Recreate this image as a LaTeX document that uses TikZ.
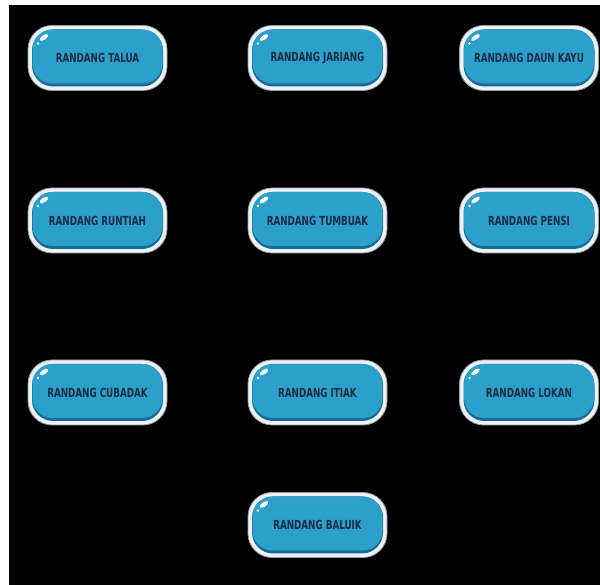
\documentclass[tikz,border=0pt]{standalone}
\usepackage{fontspec}
\newfontfamily\btnfont{DejaVu Sans Condensed}
\newcommand\btnlabel[1]{\scalebox{0.78}[1]{#1}}
\definecolor{rim}{RGB}{238,242,246}
\definecolor{rimedge}{RGB}{140,158,172}
\definecolor{btnblue}{RGB}{42,160,202}
\definecolor{btndark}{RGB}{24,108,148}
\definecolor{btntext}{RGB}{26,44,70}
\tikzset{
  btn/.style={rectangle, rounded corners=24pt, minimum width=139pt, minimum height=65pt,
    inner sep=0pt, fill=rim, draw=rimedge, line width=0.8pt, text=btntext,
    font=\btnfont\bfseries\fontsize{12.5}{13}\selectfont,
    path picture={
      \fill[btndark, rounded corners=21pt]
        ([shift={(4pt,-4pt)}]path picture bounding box.north west) rectangle
        ([shift={(-4pt,4pt)}]path picture bounding box.south east);
      \fill[btnblue, rounded corners=20pt]
        ([shift={(4.5pt,-4pt)}]path picture bounding box.north west) rectangle
        ([shift={(-4.5pt,7pt)}]path picture bounding box.south east);
      \fill[white] ([shift={(16pt,-12pt)}]path picture bounding box.north west)
        circle[x radius=5pt, y radius=2.2pt, rotate=35];
      \fill[white] ([shift={(10pt,-18pt)}]path picture bounding box.north west)
        circle[radius=1.3pt];
    }}
}
\begin{document}
\begin{tikzpicture}[x=1pt,y=1pt]
  \useasboundingbox (0,0) rectangle (600,585);
  \fill[white] (0,0) rectangle (600,585);
  \fill[black] (9,0) rectangle (600,580);
  % row 1
  \node[btn] (talua)    at (97.5,527) {\btnlabel{RANDANG TALUA}};
  \node[btn] (jariang)  at (317.5,527) {\btnlabel{RANDANG JARIANG}};
  \node[btn] (daunkayu) at (529,527) {\btnlabel{RANDANG DAUN KAYU}};
  % row 2
  \node[btn] (runtiah)  at (97.5,364.5) {\btnlabel{RANDANG RUNTIAH}};
  \node[btn] (tumbuak)  at (317.5,364.5) {\btnlabel{RANDANG TUMBUAK}};
  \node[btn] (pensi)    at (529,364.5) {\btnlabel{RANDANG PENSI}};
  % row 3
  \node[btn] (cubadak)  at (97.5,192.5) {\btnlabel{RANDANG CUBADAK}};
  \node[btn] (itiak)    at (317.5,192.5) {\btnlabel{RANDANG ITIAK}};
  \node[btn] (lokan)    at (529,192.5) {\btnlabel{RANDANG LOKAN}};
  % row 4
  \node[btn] (baluik)   at (317.5,60) {\btnlabel{RANDANG BALUIK}};
\end{tikzpicture}
\end{document}
